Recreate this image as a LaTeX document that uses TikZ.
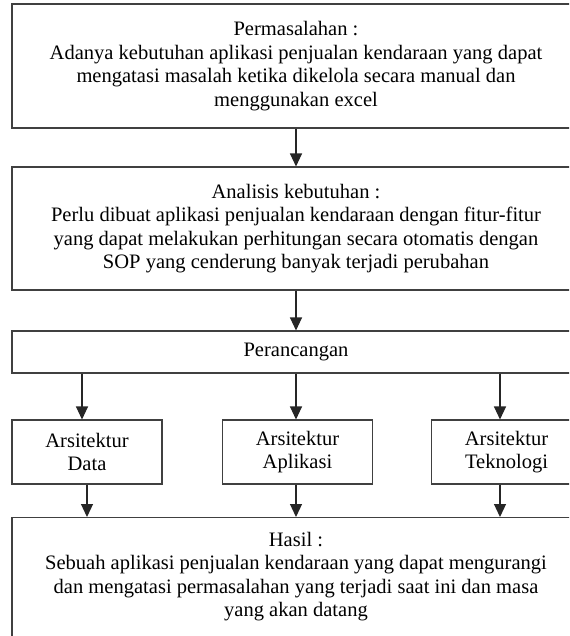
\documentclass[tikz,border=0pt]{standalone}
\usepackage{fontspec}
\setmainfont{Liberation Serif}
\usetikzlibrary{arrows.meta}
\begin{document}
\begin{tikzpicture}[x=0.75pt,y=-0.75pt,
  box/.style={draw=black!75,line width=0.8pt,rectangle,inner sep=0pt,align=center,
    font=\fontsize{15.4}{17.6}\selectfont},
  wide/.style={box,minimum width=426pt},
  small/.style={box,minimum width=112.5pt,minimum height=48pt},
  arr/.style={draw=black!85,line width=0.9pt,-{Triangle[length=9.75pt,width=9pt]}}]
\useasboundingbox (0,0) rectangle (569,636);
\clip (0,0) rectangle (569,636);
\node[wide,minimum height=93pt] (perm) at (296,66) {Permasalahan :\\Adanya kebutuhan aplikasi penjualan kendaraan yang dapat\\mengatasi masalah ketika dikelola secara manual dan\\menggunakan excel};
\node[wide,minimum height=92.25pt] (anal) at (296,228.5) {Analisis kebutuhan :\\Perlu dibuat aplikasi penjualan kendaraan dengan fitur-fitur\\yang dapat melakukan perhitungan secara otomatis dengan\\SOP yang cenderung banyak terjadi perubahan};
\node[wide,minimum height=31.5pt] (peran) at (296,352) {Perancangan};
\node[small] (ardata) at (87,452) {Arsitektur\\Data};
\node[small] (arapl) at (297.5,452) {Arsitektur\\Aplikasi};
\node[small] (artek) at (506.5,452) {Arsitektur\\Teknologi};
\node[wide,minimum height=90pt,anchor=north] (hasil) at (296,517) {\\[-8pt]Hasil :\\Sebuah aplikasi penjualan kendaraan yang dapat mengurangi\\dan mengatasi permasalahan yang terjadi saat ini dan masa\\yang akan datang};
\coordinate (xd1) at (82,0);
\coordinate (xd2) at (87,0);
\coordinate (xt) at (500,0);
\coordinate (xm) at (296,0);
\draw[arr] (perm.south) -- (anal.north);
\draw[arr] (anal.south) -- (peran.north);
\draw[arr] (peran.south -| xd1) -- (ardata.north -| xd1);
\draw[arr] (peran.south) -- (peran.south |- arapl.north);
\draw[arr] (peran.south -| xt) -- (artek.north -| xt);
\draw[arr] (ardata.south -| xd2) -- (hasil.north -| xd2);
\draw[arr] (arapl.south -| xm) -- (hasil.north);
\draw[arr] (artek.south -| xt) -- (hasil.north -| xt);
\end{tikzpicture}
\end{document}
